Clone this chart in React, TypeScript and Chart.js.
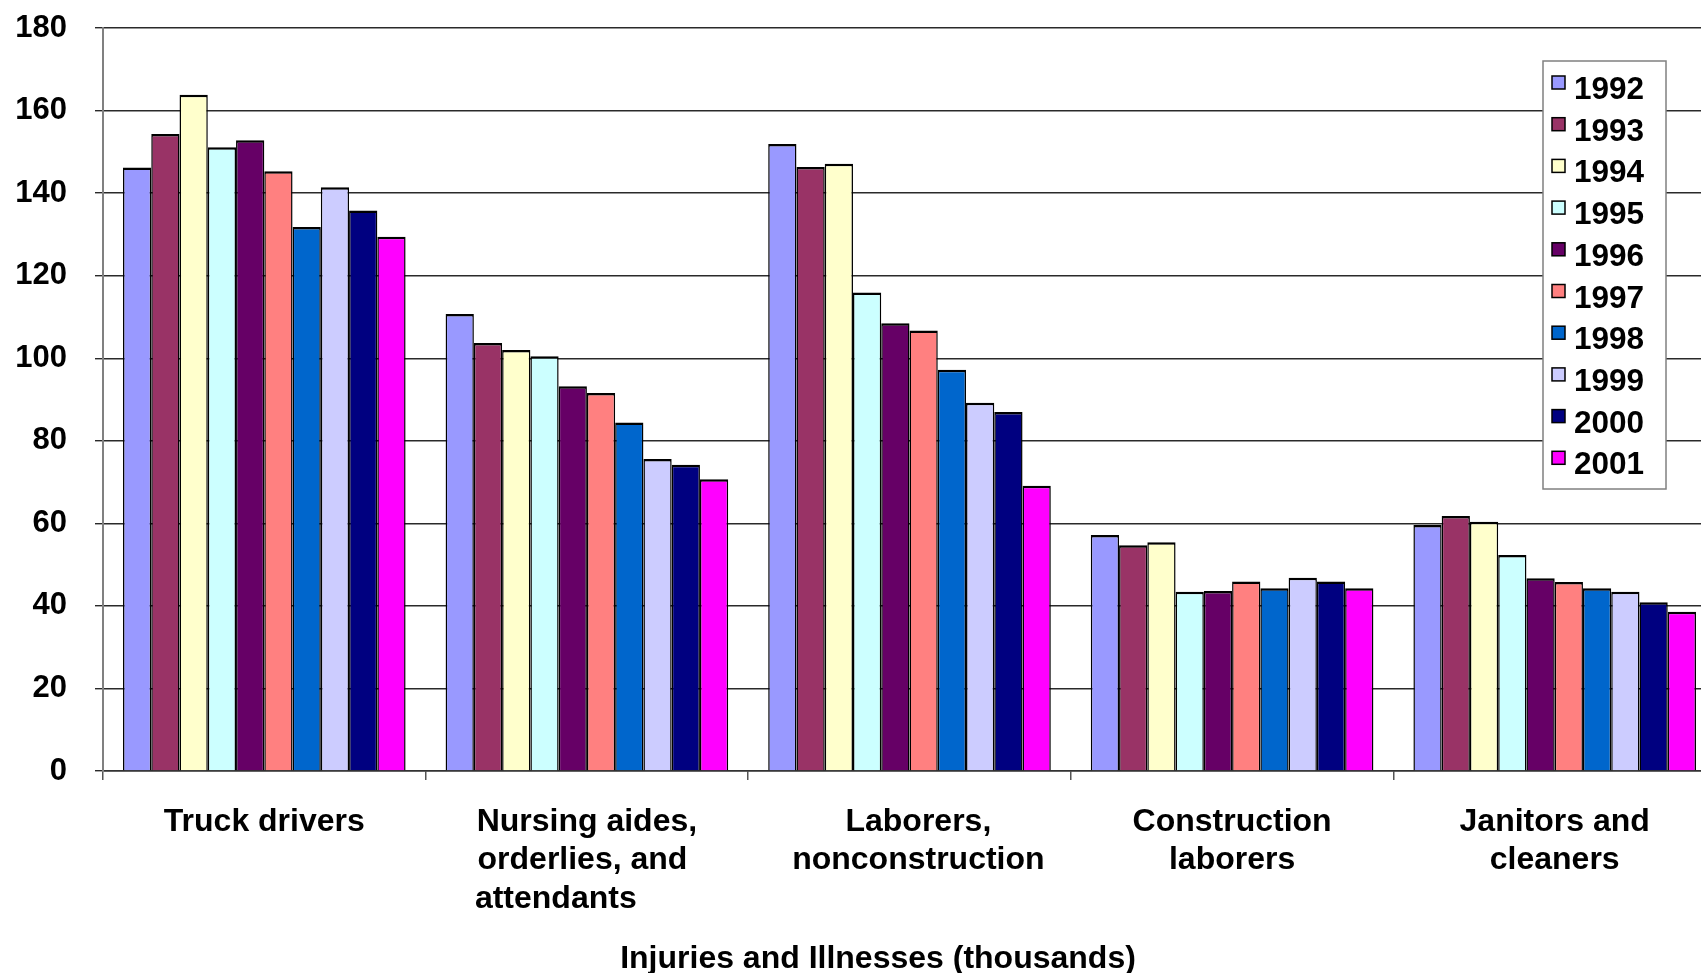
import { useEffect, useRef } from "react";
import { Chart, registerables } from "chart.js";

Chart.register(...registerables);

const categories: string[][] = [
  ["Truck drivers"],
  ["Nursing aides,", "orderlies, and ", "attendants       "],
  ["  Laborers,", "  nonconstruction"],
  ["Construction", "laborers"],
  ["Janitors and", "cleaners"],
];

const years = ["1992", "1993", "1994", "1995", "1996", "1997", "1998", "1999", "2000", "2001"];

const yearColors = [
  "#9999FF", "#993366", "#FFFFCC", "#CCFFFF", "#660066",
  "#FF8080", "#0066CC", "#CCCCFF", "#000080", "#FF00FF",
];

const v1992 = [146.2, 110.7, 151.9, 57.2, 59.6];
const v1993 = [154.3, 103.7, 146.3, 54.7, 61.8];
const v1994 = [163.8, 102.0, 147.1, 55.4, 60.4];
const v1995 = [151.1, 100.5, 115.9, 43.4, 52.3];
const v1996 = [152.8, 93.2, 108.5, 43.6, 46.7];
const v1997 = [145.3, 91.6, 106.7, 45.9, 45.8];
const v1998 = [131.8, 84.4, 97.2, 44.3, 44.3];
const v1999 = [141.4, 75.6, 89.2, 46.8, 43.4];
const v2000 = [135.8, 74.2, 87.0, 45.9, 40.9];
const v2001 = [129.4, 70.7, 69.1, 44.3, 38.6];

const seriesValues = [v1992, v1993, v1994, v1995, v1996, v1997, v1998, v1999, v2000, v2001];

const yTickValues = [0, 20, 40, 60, 80, 100, 120, 140, 160, 180];

const axisTitle = "Injuries and Illnesses (thousands)";

const FONT = "'Liberation Sans', Arial, Helvetica, sans-serif";

const legendBoxPlugin = {
  id: "legendBox",
  afterDraw(chart: any) {
    const { ctx, chartArea } = chart;
    const left = chartArea.right - 173;
    const top = chartArea.top + 33;
    const w = 123;
    const h = 428;
    ctx.save();
    ctx.fillStyle = "#ffffff";
    ctx.fillRect(left, top, w, h);
    ctx.strokeStyle = "#808080";
    ctx.lineWidth = 1.5;
    ctx.strokeRect(left, top, w, h);
    ctx.font = `bold 31.5px ${FONT}`;
    ctx.textBaseline = "alphabetic";
    ctx.textAlign = "left";
    chart.data.datasets.forEach((ds: any, i: number) => {
      const y = top + 15 + i * 41.7;
      ctx.fillStyle = ds.backgroundColor;
      ctx.fillRect(left + 9, y, 13, 13);
      ctx.strokeStyle = "#000000";
      ctx.lineWidth = 1.5;
      ctx.strokeRect(left + 9, y, 13, 13);
      ctx.fillStyle = "#000000";
      ctx.fillText(ds.label, left + 31, y + 23);
    });
    ctx.restore();
  },
};

const bottomTitlePlugin = {
  id: "bottomTitle",
  afterDraw(chart: any) {
    const { ctx } = chart;
    ctx.save();
    ctx.font = `bold 32px ${FONT}`;
    ctx.fillStyle = "#000000";
    ctx.textAlign = "center";
    ctx.textBaseline = "alphabetic";
    ctx.fillText(axisTitle, chart.width / 2, chart.height - 5);
    ctx.restore();
  },
};

export default function App() {
  const canvasRef = useRef<HTMLCanvasElement | null>(null);

  useEffect(() => {
    if (!canvasRef.current) return;
    const chart = new Chart(canvasRef.current, {
      type: "bar",
      data: {
        labels: categories,
        datasets: years.map((y, i) => ({
          label: y,
          data: seriesValues[i],
          backgroundColor: yearColors[i],
          borderColor: "#000000",
          borderWidth: { top: 2.5, left: 1.5, right: 1.5, bottom: 0 },
          categoryPercentage: 0.876,
          barPercentage: 1.0,
        })),
      },
      options: {
        animation: false,
        responsive: true,
        maintainAspectRatio: false,
        layout: { padding: { left: 15, right: 40, top: 28, bottom: 56 } },
        plugins: {
          legend: { display: false },
          tooltip: { enabled: false },
          title: { display: false },
        },
        scales: {
          x: {
            afterFit: (scale: any) => {
              scale.height = 146;
              scale.paddingLeft = 0;
              scale.paddingRight = 0;
            },
            grid: {
              display: true,
              drawOnChartArea: false,
              drawTicks: true,
              tickLength: 9,
              color: "#555555",
              lineWidth: 1.5,
              offset: true,
            },
            border: { display: true, color: "#333333", width: 1.5 },
            ticks: {
              color: "#000000",
              autoSkip: false,
              maxRotation: 0,
              minRotation: 0,
              padding: 23,
              font: { family: FONT, size: 32, weight: "bold", lineHeight: 1.2 },
            },
          },
          y: {
            min: 0,
            max: 180,
            afterBuildTicks: (scale: any) => {
              scale.ticks = yTickValues.map((v) => ({ value: v }));
            },
            afterFit: (scale: any) => {
              scale.width = 88;
              scale.paddingTop = 0;
              scale.paddingBottom = 0;
            },
            grid: {
              color: "#2a2a2a",
              lineWidth: 1.4,
              drawTicks: true,
              tickLength: 8,
            },
            border: { display: true, color: "#808080", width: 2 },
            ticks: {
              color: "#000000",
              padding: 28,
              font: { family: FONT, size: 31, weight: "bold", lineHeight: 1.2 },
            },
          },
        },
      },
      plugins: [legendBoxPlugin, bottomTitlePlugin],
    } as any);
    return () => chart.destroy();
  }, []);

  return (
    <div
      style={{
        position: "fixed",
        left: 0,
        top: 0,
        width: "100vw",
        height: "100vh",
        overflow: "hidden",
        background: "#ffffff",
      }}
    >
      <div style={{ position: "relative", width: 1756, height: 973 }}>
        <canvas ref={canvasRef} />
      </div>
    </div>
  );
}
